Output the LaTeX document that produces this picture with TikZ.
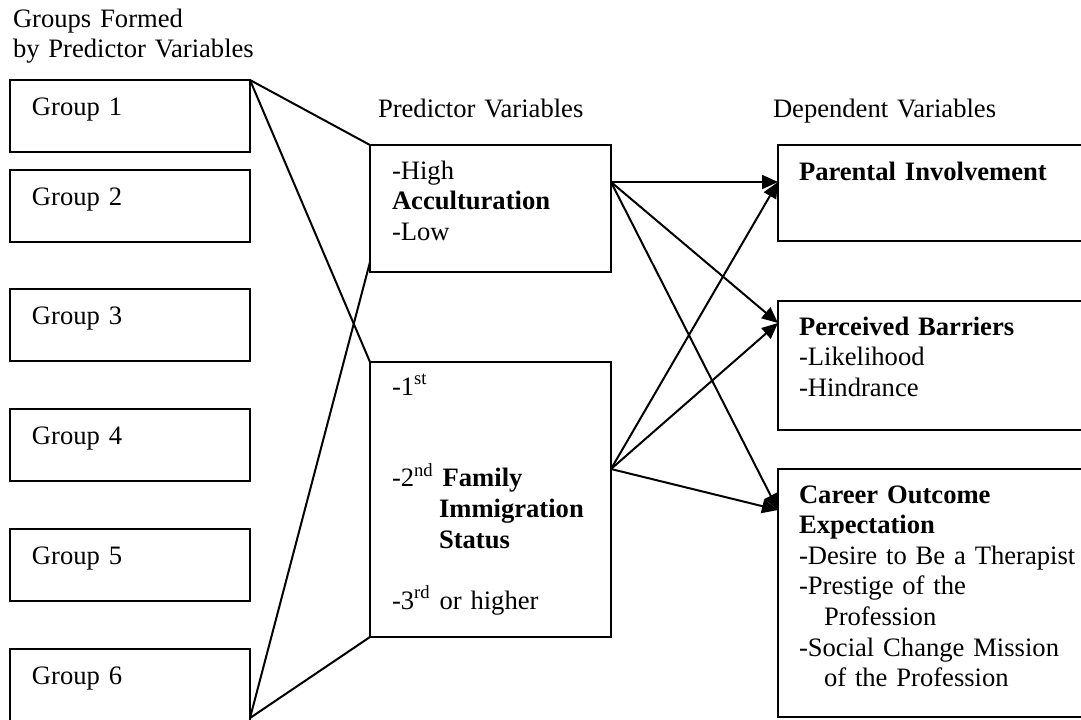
\documentclass[tikz,border=0pt]{standalone}
\usepackage{fontspec}
\setmainfont{Liberation Serif}
\usetikzlibrary{arrows.meta}

\begin{document}
\begin{tikzpicture}[x=0.5pt, y=-0.5pt, line width=1pt,
    box/.style={draw, anchor=north west, inner sep=0pt, outer sep=0pt, minimum width=120.5pt},
    lbl/.style={anchor=base west, inner sep=0pt, align=left, text width=150pt,
      font=\fontsize{13.3pt}{15.3pt}\selectfont},
    link/.style={-{Triangle[length=8pt,width=7pt]}}]
  \useasboundingbox (0,0) rectangle (1081,719);
  \node[lbl] (hgrp) at (12,27) {Groups Formed\\by Predictor Variables};
  \node[lbl] (hpred) at (377,117) {Predictor Variables};
  \node[lbl] (hdep) at (772,117) {Dependent Variables};
  \foreach \i/\y in {1/80,2/170,3/289,4/409,5/529} {
    \node[box, minimum width=120pt, minimum height=36pt] (g\i) at (10,\y) {};
    \node[lbl] (gt\i) at ([xshift=10.5pt,yshift=-17.5pt]g\i.north west) {Group \i};
  }
  \node[box, minimum width=120pt, minimum height=40pt] (g6) at (10,649) {};
  \node[lbl] (gt6) at ([xshift=10.5pt,yshift=-17.5pt]g6.north west) {Group 6};
  \coordinate (g6c) at (250,718);
  \node[box, minimum height=63.5pt] (acc) at (370,145) {};
  \node[lbl] (acct) at ([xshift=10.5pt,yshift=-17pt]acc.north west)
    {-High\\\textbf{Acculturation}\\-Low};
  \node[box, minimum height=137.5pt] (fam) at (370,362) {};
  \node[lbl] (famt) at ([xshift=10.5pt,yshift=-16.5pt]fam.north west)
    {-1\textsuperscript{st}\\\mbox{}\\\mbox{}\\-2\textsuperscript{nd} \textbf{Family}\\
     \hspace*{23.5pt}\textbf{Immigration}\\\hspace*{23.5pt}\textbf{Status}\\\mbox{}\\
     -3\textsuperscript{rd} or higher};
  \node[box, minimum width=158.5pt, minimum height=48pt] (par) at (778,145) {};
  \node[lbl] (part) at ([xshift=10pt,yshift=-17.5pt]par.north west) {\textbf{Parental Involvement}};
  \node[box, minimum width=158.5pt, minimum height=64.5pt] (perc) at (778,301) {};
  \node[lbl] (perct) at ([xshift=10pt,yshift=-17pt]perc.north west)
    {\textbf{Perceived Barriers}\\-Likelihood\\-Hindrance};
  \node[box, minimum width=158.5pt, minimum height=124pt] (car) at (778,469) {};
  \node[lbl] (cart) at ([xshift=10pt,yshift=-17pt]car.north west)
    {\textbf{Career Outcome}\\\textbf{Expectation}\\-Desire to Be a Therapist\\-Prestige of the\\
     \hspace*{12.5pt}Profession\\-Social Change Mission\\\hspace*{12.5pt}of the Profession};
  \draw (g1.north east) -- (acc.north west);
  \draw (g1.north east) -- (fam.north west);
  \draw (g6c) -- ([yshift=5pt]acc.south west);
  \draw (g6c) -- (fam.south west);
  \coordinate (accout) at ([yshift=-18.5pt]acc.north east);
  \coordinate (famout) at ([yshift=-53.5pt]fam.north east);
  \coordinate (parin) at ([yshift=-18.5pt]par.north west);
  \coordinate (percin) at ([yshift=-11pt]perc.north west);
  \coordinate (carin) at ([yshift=-20.5pt]car.north west);
  \foreach \t in {parin,percin,carin} {
    \draw[link] (accout) -- (\t);
    \draw[link] (famout) -- (\t);
  }
\end{tikzpicture}
\end{document}
